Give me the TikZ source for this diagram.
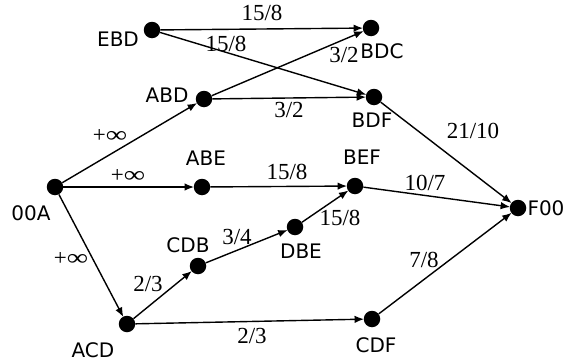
\documentclass[tikz,border=0pt]{standalone}
\usepackage{fontspec}
\setmainfont{Liberation Serif}
\newfontfamily\labelfont{DejaVu Sans}
\usetikzlibrary{arrows.meta}
\begin{document}
\begin{tikzpicture}[x=1pt,y=-1pt,
  vertex/.style={circle,fill=black,inner sep=0pt,minimum size=16.5pt},
  vname/.style={font=\labelfont\fontsize{20}{20}\selectfont,inner sep=0pt},
  wlabel/.style={font=\fontsize{23}{23}\selectfont,inner sep=0pt},
  arc/.style={line width=1.4pt,-{Latex[length=9.5pt,width=7.5pt]},shorten >=-0.5pt}]
\useasboundingbox (0,0) rectangle (568,364);
% vertices
\node[vertex] (ebd) at (152,30) {};
\node[vertex] (bdc) at (371,28) {};
\node[vertex] (abd) at (204,99) {};
\node[vertex] (bdf) at (374,97) {};
\node[vertex] (oa)  at (55,187) {};
\node[vertex] (abe) at (202,187) {};
\node[vertex] (bef) at (355,186) {};
\node[vertex] (foo) at (518,208) {};
\node[vertex] (dbe) at (295,227) {};
\node[vertex] (cdb) at (198,266) {};
\node[vertex] (acd) at (127,324) {};
\node[vertex] (cdf) at (372,319) {};
% vertex names
\node[vname] (tebd) at (118,39) {EBD};
\node[vname] (tbdc) at (382,51) {BDC};
\node[vname] (tabd) at (167,95) {ABD};
\node[vname] (tbdf) at (372,120) {BDF};
\node[vname] (tabe) at (206,158) {ABE};
\node[vname] (tbef) at (362,157) {BEF};
\node[vname] (toa)  at (31,213) {00A};
\node[vname] (tfoo) at (546,208) {F00};
\node[vname] (tcdb) at (188,245) {CDB};
\node[vname] (tdbe) at (301,251) {DBE};
\node[vname] (tacd) at (93,350) {ACD};
\node[vname] (tcdf) at (376,345) {CDF};
% arcs
\draw[arc] (ebd) -- (bdc);
\draw[arc] (ebd) -- (bdf);
\draw[arc] (abd) -- (bdc);
\draw[arc] (abd) -- (bdf);
\draw[arc] (oa) -- (abd);
\draw[arc] (oa) -- (abe);
\draw[arc] (oa) -- (acd);
\draw[arc] (abe) -- (bef);
\draw[arc] (bdf) -- (foo);
\draw[arc] (bef) -- (foo);
\draw[arc] (acd) -- (cdb);
\draw[arc] (cdb) -- (dbe);
\draw[arc] (dbe) -- (bef);
\draw[arc] (acd) -- (cdf);
\draw[arc] (cdf) -- (foo);
% weights
\node[wlabel] (w1)  at (262,13)  {15/8};
\node[wlabel] (w2)  at (226,44)  {15/8};
\node[wlabel] (w3)  at (344,55)  {3/2};
\node[wlabel] (w4)  at (289,110) {3/2};
\node[wlabel] (w5)  at (110,136) {+\scalebox{1.3}[1]{∞}};
\node[wlabel] (w6)  at (128,176) {+\scalebox{1.3}[1]{∞}};
\node[wlabel] (w7)  at (71,259)  {+\scalebox{1.3}[1]{∞}};
\node[wlabel] (w8)  at (287,172) {15/8};
\node[wlabel] (w9)  at (425,183) {10/7};
\node[wlabel] (w10) at (473,131) {21/10};
\node[wlabel] (w11) at (340,218) {15/8};
\node[wlabel] (w12) at (237,237) {3/4};
\node[wlabel] (w13) at (148,284) {2/3};
\node[wlabel] (w14) at (252,336) {2/3};
\node[wlabel] (w15) at (424,260) {7/8};
\end{tikzpicture}
\end{document}
